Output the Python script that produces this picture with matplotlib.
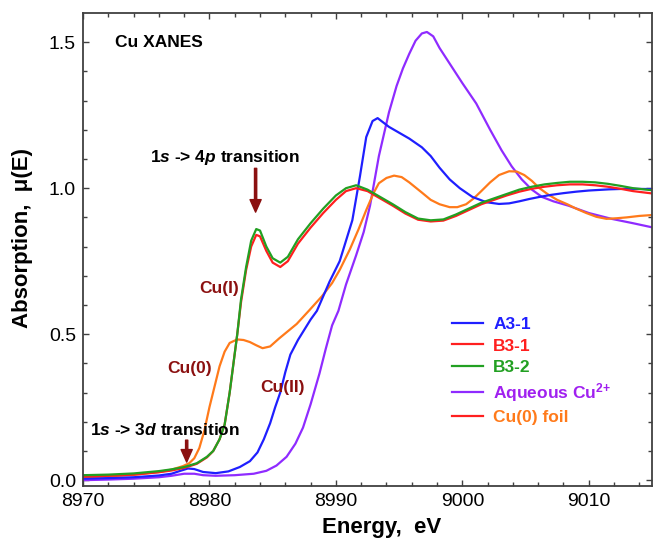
import matplotlib
matplotlib.use('Agg')
import matplotlib.pyplot as plt
from matplotlib.lines import Line2D

plt.rcParams['font.family'] = ['Liberation Sans', 'DejaVu Sans']
plt.rcParams['mathtext.fontset'] = 'custom'
plt.rcParams['mathtext.rm'] = 'Liberation Sans:bold'
plt.rcParams['mathtext.bf'] = 'Liberation Sans:bold'
plt.rcParams['mathtext.it'] = 'Liberation Sans:italic:bold'

# B3-2 (green)
e_b32 = [8970, 8972, 8974, 8976, 8977, 8978, 8979, 8979.8, 8980.3, 8980.8, 8981.2, 8981.6,
         8981.9, 8982.2, 8982.5, 8982.9, 8983.3, 8983.7, 8984.0, 8984.5, 8985.0, 8985.6,
         8986.2, 8987.0, 8988.0, 8989.0, 8990.0, 8990.8, 8991.6, 8992.5, 8993.5, 8994.5,
         8995.5, 8996.5, 8997.5, 8998.5, 8999.5, 9000.5, 9001.5, 9002.5, 9003.5, 9004.5,
         9005.5, 9006.5, 9007.5, 9008.5, 9009.5, 9010.5, 9011.5, 9012.5, 9013.5, 9015]
mu_b32 = [0.017, 0.019, 0.023, 0.031, 0.037, 0.045, 0.058, 0.08, 0.10, 0.14, 0.19, 0.30,
          0.40, 0.50, 0.62, 0.73, 0.82, 0.86, 0.855, 0.80, 0.76, 0.745,
          0.765, 0.825, 0.88, 0.93, 0.975, 1.0, 1.01, 0.995, 0.97, 0.945,
          0.918, 0.896, 0.89, 0.893, 0.91, 0.93, 0.95, 0.965, 0.98, 0.995,
          1.005, 1.013, 1.018, 1.022, 1.022, 1.02, 1.015, 1.008, 1.0, 0.993]

# B3-1 (red)
e_b31 = e_b32
mu_b31 = [0.012, 0.015, 0.019, 0.027, 0.033, 0.042, 0.056, 0.078, 0.10, 0.14, 0.19, 0.30,
          0.40, 0.50, 0.61, 0.72, 0.80, 0.84, 0.835, 0.785, 0.745, 0.73,
          0.75, 0.81, 0.865, 0.915, 0.96, 0.99, 1.0, 0.99, 0.965, 0.94,
          0.913, 0.892, 0.886, 0.889, 0.905, 0.925, 0.945, 0.96, 0.975, 0.988,
          0.998, 1.005, 1.01, 1.013, 1.013, 1.01, 1.005, 0.998, 0.99, 0.982]

# A3-1 (blue)
e_a31 = [8970, 8972, 8974, 8976, 8977, 8977.7, 8978.3, 8978.8, 8979.5, 8980.5, 8981.5,
         8982.4, 8983.2, 8983.8, 8984.3, 8984.8, 8985.2, 8985.6, 8986.0, 8986.4, 8987.0,
         8987.5, 8988.0, 8988.5, 8989.5, 8990.3, 8990.8, 8991.3, 8991.9, 8992.4, 8992.9,
         8993.3, 8994.2, 8995.0, 8995.8, 8996.8, 8997.5, 8998.2, 8999.0, 8999.8, 9000.8,
         9001.9, 9002.9, 9003.7, 9004.5, 9005.3, 9006.1, 9007.0, 9008.0, 9009.0, 9010.0,
         9011.6, 9013.0, 9015]
mu_a31 = [0.005, 0.007, 0.01, 0.016, 0.022, 0.032, 0.04, 0.038, 0.028, 0.024, 0.03,
          0.045, 0.065, 0.095, 0.14, 0.195, 0.25, 0.30, 0.37, 0.43, 0.48,
          0.515, 0.55, 0.58, 0.68, 0.75, 0.82, 0.89, 1.04, 1.175, 1.23,
          1.24, 1.21, 1.19, 1.17, 1.14, 1.11, 1.07, 1.03, 1.0, 0.97,
          0.952, 0.946, 0.948, 0.955, 0.963, 0.97, 0.977, 0.983, 0.988, 0.992,
          0.996, 0.998, 0.997]

# Aqueous Cu2+ (purple)
e_aq = [8970, 8972, 8974, 8976, 8977, 8978, 8978.8, 8979.5, 8980.5, 8982, 8983.5, 8984.5,
        8985.3, 8986.1, 8986.8, 8987.4, 8988.0, 8988.7, 8989.2, 8989.7, 8990.2, 8990.8,
        8991.6, 8992.2, 8992.7, 8993.4, 8994.2, 8994.8, 8995.3, 8995.8, 8996.3, 8996.8,
        8997.2, 8997.7, 8998.2, 8998.8, 9000.0, 9001.1, 9002.2, 9003.1, 9003.9, 9004.7,
        9005.5, 9006.3, 9007.2, 9008.4, 9010.0, 9011.8, 9013.5, 9015]
mu_aq = [0.0, 0.002, 0.005, 0.01, 0.015, 0.022, 0.022, 0.017, 0.015, 0.017, 0.022, 0.032,
         0.05, 0.08, 0.125, 0.18, 0.26, 0.365, 0.45, 0.53, 0.58, 0.67,
         0.77, 0.85, 0.94, 1.11, 1.26, 1.35, 1.41, 1.46, 1.505, 1.53,
         1.535, 1.52, 1.48, 1.44, 1.36, 1.29, 1.2, 1.13, 1.075, 1.03,
         0.995, 0.97, 0.955, 0.94, 0.915, 0.895, 0.88, 0.866]

# Cu(0) foil (orange)
e_foil = [8970, 8972, 8974, 8976, 8977, 8977.9, 8978.4, 8978.8, 8979.2, 8979.6, 8980.0,
          8980.4, 8980.8, 8981.2, 8981.6, 8982.2, 8982.7, 8983.2, 8983.7, 8984.2, 8984.8,
          8985.5, 8986.2, 8986.9, 8987.9, 8988.9, 8989.7, 8990.3, 8991.1, 8991.8, 8992.4,
          8993.0, 8993.4, 8994.0, 8994.6, 8995.2, 8995.8, 8996.8, 8997.5, 8998.2, 8999.0,
          8999.6, 9000.3, 9000.9, 9001.5, 9002.2, 9002.9, 9003.7, 9004.3, 9004.9, 9005.5,
          9006.1, 9006.8, 9007.5, 9008.3, 9009.0, 9009.8, 9010.6, 9011.4, 9012.2, 9013.0,
          9014.0, 9015]
mu_foil = [0.01, 0.013, 0.018, 0.028, 0.036, 0.048, 0.058, 0.075, 0.11, 0.17, 0.25,
           0.32, 0.39, 0.44, 0.47, 0.482, 0.48, 0.473, 0.462, 0.452, 0.458,
           0.485, 0.51, 0.535, 0.582, 0.63, 0.675, 0.72, 0.79, 0.86, 0.925,
           0.985, 1.017, 1.035, 1.043, 1.038, 1.02, 0.985, 0.96, 0.945, 0.935,
           0.935, 0.945, 0.965, 0.99, 1.02, 1.045, 1.058, 1.057, 1.045, 1.025,
           1.0, 0.978, 0.96, 0.945, 0.93, 0.915, 0.902, 0.895, 0.897, 0.9,
           0.905, 0.908]

labels = ['A3-1', 'B3-1', 'B3-2', r'Aqueous Cu$^{\mathbf{2{+}}}$', 'Cu(0) foil']
line_colors = ['#1f1fff', '#ff1f1f', '#22a022', '#8f2bff', '#ff1f1f']
text_colors = ['#1f1fff', '#ff1f1f', '#22a022', '#a020f0', '#ff7a1a']

c_blue, c_red, c_green, c_purple, c_orange = '#1f1fff', '#ff1f1f', '#22a022', '#8f2bff', '#ff7a1a'
dark_red = '#8b1010'

fig = plt.figure(figsize=(6.53, 5.4), dpi=100)
ax = fig.add_axes([83/653, 54/540, 569/653, 473/540])

lw = 1.6
ax.plot(e_aq, mu_aq, color=c_purple, lw=lw)
ax.plot(e_foil, mu_foil, color=c_orange, lw=lw)
ax.plot(e_a31, mu_a31, color=c_blue, lw=lw)
ax.plot(e_b31, mu_b31, color=c_red, lw=lw)
ax.plot(e_b32, mu_b32, color=c_green, lw=lw)

ax.set_xlim(8970, 9015)
ax.set_ylim(-0.02, 1.6)
ax.set_xticks([8970, 8980, 8990, 9000, 9010])
ax.set_yticks([0.0, 0.5, 1.0, 1.5])
ax.set_xticks([x for x in range(8970, 9016, 2)], minor=True)
ax.set_yticks([i / 10 for i in range(0, 16)], minor=True)
ax.set_yticklabels(['0.0', '0.5', '1.0', '1.5'])
ax.tick_params(which='both', direction='in', top=True, right=True, color='#404040', width=1.0)
ax.tick_params(which='major', length=4, labelsize=14, pad=5)
ax.tick_params(which='minor', length=3)
for s in ax.spines.values():
    s.set_color('#404040')
    s.set_linewidth(1.3)

ax.set_xlabel('Energy,  eV', fontsize=16, fontweight='bold', va='top')
ax.xaxis.set_label_coords(0.525, -0.066)
ax.set_ylabel('Absorption,  μ(E)', fontsize=16, fontweight='bold')
ax.yaxis.set_label_coords(-0.088, 0.524)

ax.text(8972.5, 1.5, 'Cu XANES', fontsize=12.5, fontweight='bold', ha='left', va='center')
ax.text(8981.2, 1.106, r'1$\it{s}$ -> 4$\it{p}$ transition', fontsize=12.5, fontweight='bold',
        ha='center', va='center')
ax.annotate('', xy=(8983.65, 0.918), xytext=(8983.65, 1.068),
            arrowprops=dict(facecolor=dark_red, edgecolor=dark_red, width=1.6, headwidth=8, headlength=9))
ax.text(8976.5, 0.171, r'1$\it{s}$ -> 3$\it{d}$ transition', fontsize=12.5, fontweight='bold',
        ha='center', va='center')
ax.annotate('', xy=(8978.2, 0.062), xytext=(8978.2, 0.137),
            arrowprops=dict(facecolor=dark_red, edgecolor=dark_red, width=1.6, headwidth=8, headlength=9))
ax.text(8980.8, 0.658, 'Cu(I)', fontsize=12.5, fontweight='bold', color=dark_red, ha='center', va='center')
ax.text(8978.4, 0.384, 'Cu(0)', fontsize=12.5, fontweight='bold', color=dark_red, ha='center', va='center')
ax.text(8985.8, 0.318, 'Cu(II)', fontsize=12.5, fontweight='bold', color=dark_red, ha='center', va='center')

handles = [Line2D([0], [0], color=c, lw=lw) for c in line_colors]
leg = ax.legend(handles, labels, loc='upper left', bbox_to_anchor=(0.6485, 0.357), frameon=False,
                prop={'size': 12.5, 'weight': 'bold'}, labelcolor=text_colors,
                handlelength=1.8, handletextpad=0.57, labelspacing=0.35, borderpad=0, borderaxespad=0)

fig.savefig('out.png', dpi=100)
